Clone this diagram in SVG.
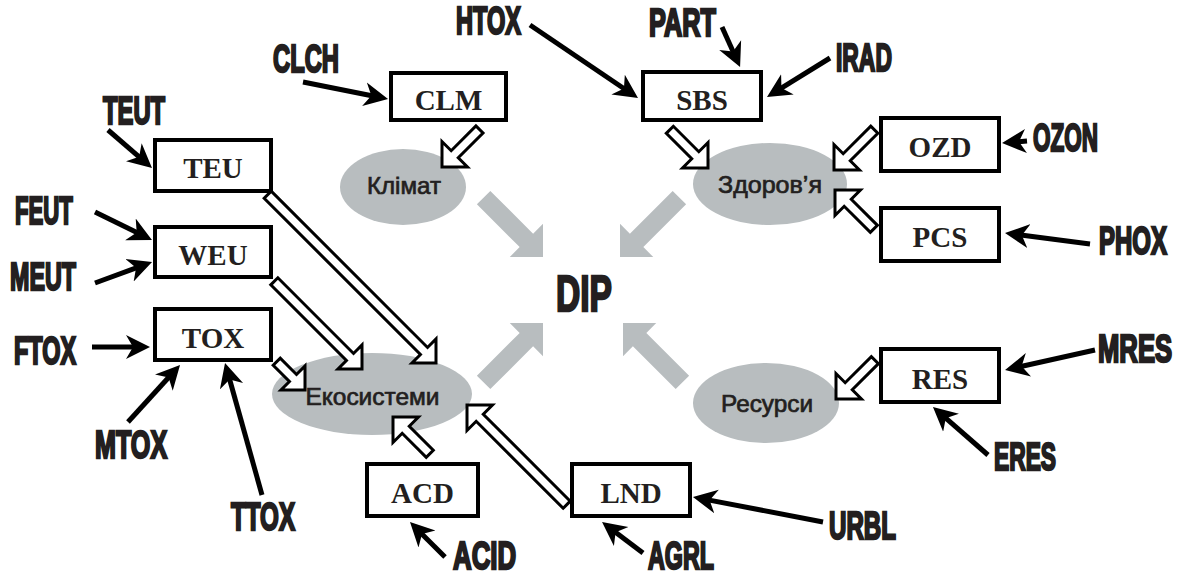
<svg xmlns="http://www.w3.org/2000/svg" width="1180" height="576" viewBox="0 0 1180 576">
<style>
.box{fill:#fff;stroke:#000;stroke-width:4}
.bt{font-family:"Liberation Serif","Times New Roman",serif;font-weight:bold;font-size:29px;fill:#231f20;text-anchor:middle}
.ell{fill:#b8bdbf}
.et{font-family:"Liberation Sans",Arial,sans-serif;font-size:24px;fill:#231f20;stroke:#231f20;stroke-width:0.7;text-anchor:middle}
.lb{font-family:"Liberation Sans Narrow","Liberation Sans",Arial,sans-serif;font-weight:bold;font-size:38px;fill:#231f20;stroke:#231f20;stroke-width:2.4;stroke-linejoin:miter}
.ln{stroke:#000;stroke-width:5;fill:none;marker-end:url(#ah)}
.ha{fill:#fff;stroke:#000;stroke-width:3;stroke-linejoin:miter}
.ga{fill:#b8bdbf}
</style>
<defs>
<marker id="ah" markerWidth="26" markerHeight="26" viewBox="0 -13 26 26" refX="10" refY="0" orient="auto" markerUnits="userSpaceOnUse">
<path d="M0,-12 L24,0 L0,12 L7,0 Z" fill="#000"/>
</marker>
<path id="gray" d="M0,0 L-23.5,23.5 L-23.5,9.5 L-84,9.5 L-84,-9.5 L-23.5,-9.5 L-23.5,-23.5 Z"/>
</defs>

<!-- central -->
<g id="dip">
<text class="lb" transform="translate(556,311) scale(0.7,1)" textLength="80" lengthAdjust="spacingAndGlyphs" style="font-size:50px">DIP</text>
</g>

<!-- ellipses -->
<g id="klimat"><ellipse class="ell" cx="403" cy="187" rx="63" ry="38"/><text class="et" x="404" y="194" textLength="74" lengthAdjust="spacingAndGlyphs">Клімат</text></g>
<g id="zdorovya"><ellipse class="ell" cx="770" cy="184" rx="77" ry="41"/><text class="et" x="770" y="193" textLength="104" lengthAdjust="spacingAndGlyphs">Здоров’я</text></g>
<g id="ekosystemy"><ellipse class="ell" cx="372" cy="394" rx="100" ry="41"/><text class="et" x="372.5" y="405" textLength="134" lengthAdjust="spacingAndGlyphs">Екосистеми</text></g>
<g id="resursy"><ellipse class="ell" cx="766" cy="403" rx="73" ry="40"/><text class="et" x="767" y="412" textLength="92" lengthAdjust="spacingAndGlyphs">Ресурси</text></g>

<!-- boxes -->
<g id="CLM"><rect class="box" x="391" y="73" width="115" height="47"/><text class="bt" x="448.5" y="110">CLM</text></g>
<g id="SBS"><rect class="box" x="643" y="72" width="118" height="48"/><text class="bt" x="702" y="110">SBS</text></g>
<g id="OZD"><rect class="box" x="881" y="118" width="118" height="53"/><text class="bt" x="940" y="157">OZD</text></g>
<g id="PCS"><rect class="box" x="881" y="208" width="118" height="53"/><text class="bt" x="940" y="247">PCS</text></g>
<g id="TEU"><rect class="box" x="155" y="140" width="116" height="51"/><text class="bt" x="213" y="178">TEU</text></g>
<g id="WEU"><rect class="box" x="155" y="227" width="116" height="50"/><text class="bt" x="213" y="265">WEU</text></g>
<g id="TOX"><rect class="box" x="155" y="309" width="116" height="51"/><text class="bt" x="213" y="348">TOX</text></g>
<g id="ACD"><rect class="box" x="367" y="464" width="111" height="52"/><text class="bt" x="422.5" y="503">ACD</text></g>
<g id="LND"><rect class="box" x="572" y="464" width="118" height="52"/><text class="bt" x="631" y="503">LND</text></g>
<g id="RES"><rect class="box" x="881" y="349" width="118" height="53"/><text class="bt" x="940" y="389">RES</text></g>

<!-- driver labels (scaled horizontally to a condensed face) -->
<g id="CLCH"><text class="lb" transform="translate(273,72) scale(0.65,1)" textLength="101.5" lengthAdjust="spacingAndGlyphs">CLCH</text></g>
<g id="HTOX"><text class="lb" transform="translate(456,34) scale(0.65,1)" textLength="100" lengthAdjust="spacingAndGlyphs">HTOX</text></g>
<g id="PART"><text class="lb" transform="translate(649,36) scale(0.65,1)" textLength="103" lengthAdjust="spacingAndGlyphs">PART</text></g>
<g id="IRAD"><text class="lb" transform="translate(836,71) scale(0.65,1)" textLength="86" lengthAdjust="spacingAndGlyphs">IRAD</text></g>
<g id="OZON"><text class="lb" transform="translate(1033,151) scale(0.65,1)" textLength="100" lengthAdjust="spacingAndGlyphs">OZON</text></g>
<g id="PHOX"><text class="lb" transform="translate(1099,254) scale(0.65,1)" textLength="104.5" lengthAdjust="spacingAndGlyphs">PHOX</text></g>
<g id="TEUT"><text class="lb" transform="translate(103,124) scale(0.65,1)" textLength="95.5" lengthAdjust="spacingAndGlyphs">TEUT</text></g>
<g id="FEUT"><text class="lb" transform="translate(15,224) scale(0.65,1)" textLength="89" lengthAdjust="spacingAndGlyphs">FEUT</text></g>
<g id="MEUT"><text class="lb" transform="translate(10,290) scale(0.65,1)" textLength="101.5" lengthAdjust="spacingAndGlyphs">MEUT</text></g>
<g id="FTOX"><text class="lb" transform="translate(14,364) scale(0.65,1)" textLength="95.5" lengthAdjust="spacingAndGlyphs">FTOX</text></g>
<g id="MTOX"><text class="lb" transform="translate(95,458) scale(0.65,1)" textLength="111" lengthAdjust="spacingAndGlyphs">MTOX</text></g>
<g id="TTOX"><text class="lb" transform="translate(231,530) scale(0.65,1)" textLength="98.5" lengthAdjust="spacingAndGlyphs">TTOX</text></g>
<g id="ACID"><text class="lb" transform="translate(453,569) scale(0.65,1)" textLength="97" lengthAdjust="spacingAndGlyphs">ACID</text></g>
<g id="AGRL"><text class="lb" transform="translate(648,569) scale(0.65,1)" textLength="101.5" lengthAdjust="spacingAndGlyphs">AGRL</text></g>
<g id="URBL"><text class="lb" transform="translate(829,539) scale(0.65,1)" textLength="103" lengthAdjust="spacingAndGlyphs">URBL</text></g>
<g id="MRES"><text class="lb" transform="translate(1098,362) scale(0.65,1)" textLength="114" lengthAdjust="spacingAndGlyphs">MRES</text></g>
<g id="ERES"><text class="lb" transform="translate(994,470) scale(0.65,1)" textLength="95.5" lengthAdjust="spacingAndGlyphs">ERES</text></g>

<g id="connectors">
<!-- gray arrows into DIP -->
<use href="#gray" class="ga" transform="translate(543,257) rotate(45)"/>
<use href="#gray" class="ga" transform="translate(620,257) rotate(135)"/>
<use href="#gray" class="ga" transform="translate(543,323) rotate(-45)"/>
<use href="#gray" class="ga" transform="translate(623,323) rotate(-135)"/>

<!-- hollow block arrows -->
<polygon class="ha" transform="translate(442,167) rotate(135)" points="0,0 -18,18 -18,5 -53,5 -53,-5 -18,-5 -18,-18"/>
<polygon class="ha" transform="translate(708,168) rotate(45)" points="0,0 -18,18 -18,5 -54,5 -54,-5 -18,-5 -18,-18"/>
<polygon class="ha" transform="translate(834,170) rotate(135)" points="0,0 -18,18 -18,5 -57,5 -57,-5 -18,-5 -18,-18"/>
<polygon class="ha" transform="translate(835,190) rotate(-135)" points="0,0 -18,18 -18,5 -55,5 -55,-5 -18,-5 -18,-18"/>
<polygon class="ha" transform="translate(436,363) rotate(45)" points="0,0 -17,17 -17,5 -238,5 -238,-5 -17,-5 -17,-17"/>
<polygon class="ha" transform="translate(362,369) rotate(45)" points="0,0 -17,17 -17,5 -124,5 -124,-5 -17,-5 -17,-17"/>
<polygon class="ha" transform="translate(305,390) rotate(45)" points="0,0 -17,17 -17,5 -40,5 -40,-5 -17,-5 -17,-17"/>
<polygon class="ha" transform="translate(393,417) rotate(-135)" points="0,0 -18,18 -18,5 -52,5 -52,-5 -18,-5 -18,-18"/>
<polygon class="ha" transform="translate(467,405) rotate(-135)" points="0,0 -18,18 -18,5 -141,5 -141,-5 -18,-5 -18,-18"/>
<polygon class="ha" transform="translate(836,399) rotate(135)" points="0,0 -18,18 -18,5 -55,5 -55,-5 -18,-5 -18,-18"/>

<!-- black driver arrows -->
<line class="ln" x1="303" y1="82" x2="374.3" y2="96.3"/>
<line class="ln" x1="530" y1="25" x2="626.4" y2="90.2"/>
<line class="ln" x1="722" y1="27" x2="734.3" y2="54.2"/>
<line class="ln" x1="830" y1="58" x2="778.9" y2="89.6"/>
<line class="ln" x1="1027" y1="141" x2="1016" y2="141.9"/>
<line class="ln" x1="1090" y1="244" x2="1018.9" y2="234.8"/>
<line class="ln" x1="108" y1="130" x2="141.4" y2="158.8"/>
<line class="ln" x1="95" y1="212" x2="139.4" y2="233.8"/>
<line class="ln" x1="95" y1="283" x2="138.9" y2="266.8"/>
<line class="ln" x1="92" y1="347" x2="136" y2="347"/>
<line class="ln" x1="128" y1="422" x2="170.6" y2="375.3"/>
<line class="ln" x1="262" y1="495" x2="228.8" y2="376.5"/>
<line class="ln" x1="445" y1="557" x2="419.9" y2="531.9"/>
<line class="ln" x1="643" y1="553" x2="613.2" y2="530.4"/>
<line class="ln" x1="823" y1="522" x2="706.7" y2="499.6"/>
<line class="ln" x1="1095" y1="350" x2="1018.7" y2="367"/>
<line class="ln" x1="988" y1="455" x2="943.5" y2="416.2"/>
</g>
</svg>
